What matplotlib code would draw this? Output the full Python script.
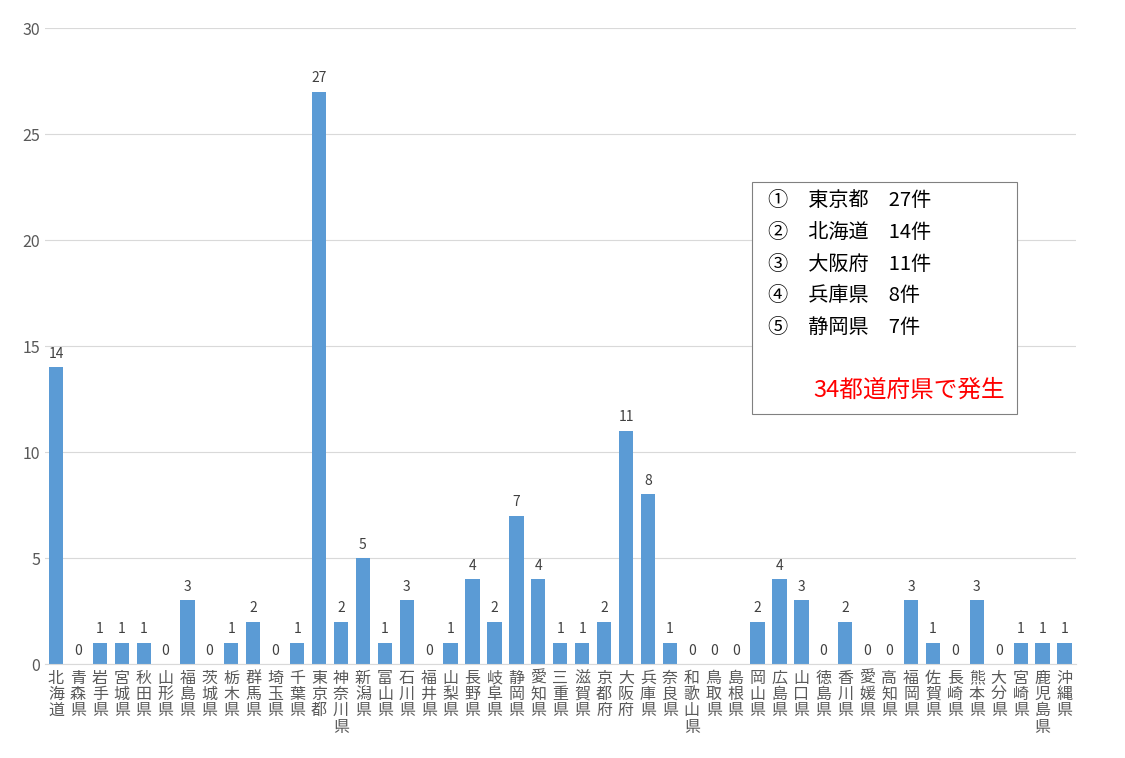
import matplotlib.pyplot as plt
from matplotlib.patches import Rectangle

plt.rcParams['font.family'] = ['Noto Sans CJK JP', 'DejaVu Sans']

# 都道府県と件数
prefs = ['北海道', '青森県', '岩手県', '宮城県', '秋田県', '山形県', '福島県', '茨城県',
         '栃木県', '群馬県', '埼玉県', '千葉県', '東京都', '神奈川県', '新潟県', '富山県',
         '石川県', '福井県', '山梨県', '長野県', '岐阜県', '静岡県', '愛知県', '三重県',
         '滋賀県', '京都府', '大阪府', '兵庫県', '奈良県', '和歌山県', '鳥取県', '島根県',
         '岡山県', '広島県', '山口県', '徳島県', '香川県', '愛媛県', '高知県', '福岡県',
         '佐賀県', '長崎県', '熊本県', '大分県', '宮崎県', '鹿児島県', '沖縄県']
counts = [14, 0, 1, 1, 1, 0, 3, 0, 1, 2, 0, 1, 27, 2, 5, 1, 3, 0, 1, 4, 2, 7, 4, 1,
          1, 2, 11, 8, 1, 0, 0, 0, 2, 4, 3, 0, 2, 0, 0, 3, 1, 0, 3, 0, 1, 1, 1]
yticks = [0, 5, 10, 15, 20, 25, 30]
top5 = ['①\u3000東京都\u300027件', '②\u3000北海道\u300014件', '③\u3000大阪府\u300011件',
        '④\u3000兵庫県\u30008件', '⑤\u3000静岡県\u30007件']
note = '34都道府県で発生'

fig = plt.figure(figsize=(11.25, 7.58), dpi=100)
ax = fig.add_axes([0.04, 0.124, 0.916, 0.839])

x = range(len(prefs))
ax.bar(x, counts, width=0.65, color='#5B9BD5', zorder=2)
for i, v in zip(x, counts):
    ax.text(i, v + 0.3, str(v), ha='center', va='bottom', fontsize=10, color='#404040')

ax.set_xlim(-0.5, len(prefs) - 0.5)
ax.set_ylim(0, 30)
ax.set_yticks(yticks)
ax.set_xticks(list(x))
ax.set_xticklabels(['\n'.join(p) for p in prefs], fontsize=11.5, color='#404040',
                   linespacing=0.95, va='top')
ax.tick_params(axis='both', length=0, labelsize=11.5, colors='#595959')
ax.tick_params(axis='x', pad=4)
ax.grid(axis='y', color='#D9D9D9', linewidth=0.8, zorder=0)
for s in ['top', 'right', 'left']:
    ax.spines[s].set_visible(False)
ax.spines['bottom'].set_color('#D9D9D9')

# 凡例ボックス
fig.patches.append(Rectangle((752 / 1125, 1 - 414 / 758), 265 / 1125, 232 / 758,
                             transform=fig.transFigure, fill=True, facecolor='white',
                             edgecolor='#808080', linewidth=0.8, zorder=5))
for k, t in enumerate(top5):
    fig.text(768 / 1125, 1 - (201 + k * 31.5) / 758, t, fontsize=14.5, va='center',
             color='black', zorder=6)
fig.text(1005 / 1125, 1 - 390 / 758, note, fontsize=17, color='#FF0000', ha='right',
         va='center', zorder=6)

fig.savefig('out.png', dpi=100)
